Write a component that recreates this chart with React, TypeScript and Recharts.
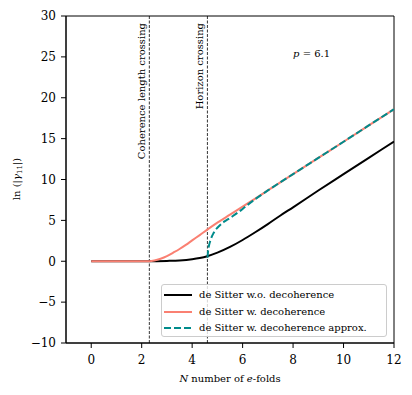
import React from "react";
import {
  Line,
  LineChart,
  ReferenceArea,
  ReferenceDot,
  ReferenceLine,
  XAxis,
  YAxis
} from "recharts";

// e-fold values and ln|gamma_11|
const blackN = [0, 1, 2, 2.3, 2.6, 3.0, 3.5, 4.0, 4.3, 4.6, 5.0, 5.5, 6.0, 6.5, 7.0, 7.5, 8.0, 9.0, 10.0, 11.0, 12.0];
const blackY = [0, 0, 0, 0, 0.01, 0.04, 0.1, 0.25, 0.4, 0.62, 1.05, 1.75, 2.6, 3.55, 4.55, 5.6, 6.6, 8.65, 10.65, 12.65, 14.65];

const salmonN = [0, 1, 2, 2.3, 2.5, 2.75, 3.0, 3.25, 3.5, 3.75, 4.0, 4.3, 4.6, 5.0, 5.5, 6.0, 6.5, 7.0, 8.0, 9.0, 10.0, 11.0, 12.0];
const salmonY = [0, 0, 0, 0, 0.08, 0.3, 0.62, 1.05, 1.5, 2.0, 2.55, 3.2, 3.87, 4.72, 5.7, 6.68, 7.66, 8.66, 10.66, 12.64, 14.62, 16.61, 18.6];

const approxN = [4.61, 4.63, 4.67, 4.72, 4.77, 4.85, 4.91, 5.0, 5.17, 5.3, 5.43, 5.6, 5.83, 6.0, 6.2, 6.5, 7.0, 8.0, 9.0, 10.0, 11.0, 12.0];
const approxY = [0.45, 1.2, 1.95, 2.5, 2.95, 3.45, 3.78, 4.1, 4.6, 4.9, 5.15, 5.5, 6.0, 6.4, 6.9, 7.6, 8.66, 10.66, 12.64, 14.62, 16.61, 18.6];

const xTicks = [0, 2, 4, 6, 8, 10, 12];
const yTicks = [-10, -5, 0, 5, 10, 15, 20, 25, 30];

const coherenceN = 2.303;
const horizonN = 4.605;

const seriesNames = [
  "de Sitter w.o. decoherence",
  "de Sitter w. decoherence",
  "de Sitter w. decoherence approx."
];

const toPoints = (ns: number[], ys: number[]) => ns.map((n, i) => ({ n, y: ys[i] }));

const FONT = "DejaVu Serif";
const BLACK = "#000000";
const SALMON = "#fa8072";
const TEAL = "#008b8b";

const tickStyle = { fontFamily: FONT, fontSize: 12, fill: "#000" };

function fmtTick(v: number) {
  return v < 0 ? `\u2212${Math.abs(v)}` : `${v}`;
}

function VLabel({ viewBox, text }: any) {
  const x = viewBox.x - 4;
  const y = viewBox.y + 7;
  return (
    <text
      x={x}
      y={y}
      transform={`rotate(-90 ${x} ${y})`}
      textAnchor="end"
      fontFamily={FONT}
      fontSize={10}
      fill="#000"
    >
      {text}
    </text>
  );
}

function LegendBox() {
  const rows = [
    { color: BLACK, dash: undefined },
    { color: SALMON, dash: undefined },
    { color: TEAL, dash: "7 3" }
  ];
  return (
    <div
      style={{
        position: "absolute",
        left: 161,
        top: 284,
        width: 226,
        height: 53,
        border: "1px solid #cccccc",
        borderRadius: 3,
        background: "rgba(255,255,255,0.8)",
        boxSizing: "border-box"
      }}
    >
      {rows.map((r, i) => (
        <div
          key={i}
          style={{
            position: "absolute",
            left: 2,
            top: 2 + i * 16.5,
            height: 16,
            display: "flex",
            alignItems: "center",
            whiteSpace: "nowrap"
          }}
        >
          <svg width={28} height={4} style={{ display: "block" }}>
            <line x1={0} y1={2} x2={28} y2={2} stroke={r.color} strokeWidth={2} strokeDasharray={r.dash} />
          </svg>
          <span style={{ fontFamily: FONT, fontSize: 10, marginLeft: 7, color: "#000", lineHeight: "16px" }}>
            {seriesNames[i]}
          </span>
        </div>
      ))}
    </div>
  );
}

export default function App() {
  return (
    <div style={{ position: "absolute", left: 0, top: 0, width: 412, height: 395, background: "#fff", fontFamily: FONT }}>
      <LineChart
        width={412}
        height={395}
        margin={{ top: 16, right: 18, left: 0, bottom: 0 }}
        style={{ fontFamily: FONT }}
      >
        <XAxis
          dataKey="n"
          type="number"
          domain={[-1, 12]}
          ticks={xTicks}
          allowDataOverflow
          height={52}
          tick={tickStyle}
          tickSize={5}
          tickMargin={7}
          tickFormatter={fmtTick}
          stroke="#000"
          label={{
            content: () => (
              <text x={230} y={382} textAnchor="middle" fontFamily={FONT} fontSize={10} fill="#000">
                <tspan fontStyle="italic">N</tspan>
                <tspan> number of </tspan>
                <tspan fontStyle="italic">e</tspan>
                <tspan>-folds</tspan>
              </text>
            )
          }}
        />
        <YAxis
          type="number"
          domain={[-10, 30]}
          ticks={yTicks}
          allowDataOverflow
          width={66}
          tick={tickStyle}
          tickSize={5}
          tickMargin={5}
          tickFormatter={fmtTick}
          stroke="#000"
          label={{
            content: () => (
              <text
                x={20}
                y={179}
                transform="rotate(-90 20 179)"
                textAnchor="middle"
                fontFamily={FONT}
                fontSize={10}
                fill="#000"
              >
                <tspan>ln (|</tspan>
                <tspan fontStyle="italic">γ</tspan>
                <tspan fontSize={7} dy={2}>11</tspan>
                <tspan dy={-2}>|)</tspan>
              </text>
            )
          }}
        />
        <ReferenceLine
          x={coherenceN}
          stroke="#000"
          strokeWidth={0.8}
          strokeDasharray="3 1.5"
          label={{ content: (p: any) => <VLabel viewBox={p.viewBox} text="Coherence length crossing" /> }}
        />
        <ReferenceLine
          x={horizonN}
          stroke="#000"
          strokeWidth={0.8}
          strokeDasharray="3 1.5"
          label={{ content: (p: any) => <VLabel viewBox={p.viewBox} text="Horizon crossing" /> }}
        />
        <Line
          data={toPoints(blackN, blackY)}
          dataKey="y"
          type="monotone"
          stroke={BLACK}
          strokeWidth={2}
          dot={false}
          isAnimationActive={false}
        />
        <Line
          data={toPoints(salmonN, salmonY)}
          dataKey="y"
          type="monotone"
          stroke={SALMON}
          strokeWidth={2}
          dot={false}
          isAnimationActive={false}
        />
        <Line
          data={toPoints(approxN, approxY)}
          dataKey="y"
          type="monotone"
          stroke={TEAL}
          strokeWidth={2}
          strokeDasharray="7 3"
          dot={false}
          isAnimationActive={false}
        />
        <ReferenceDot
          x={8}
          y={25}
          r={0}
          fill="none"
          stroke="none"
          label={{
            content: (p: any) => (
              <text
                x={p.viewBox.x + (p.viewBox.width || 0) / 2}
                y={p.viewBox.y + (p.viewBox.height || 0) / 2}
                fontFamily={FONT}
                fontSize={10}
                fill="#000"
              >
                <tspan fontStyle="italic">p</tspan>
                <tspan> = 6.1</tspan>
              </text>
            )
          }}
        />
        <ReferenceArea x1={-1} x2={12} y1={-10} y2={30} fill="none" fillOpacity={0} stroke="#000" strokeWidth={1} />
      </LineChart>
      <LegendBox />
    </div>
  );
}
